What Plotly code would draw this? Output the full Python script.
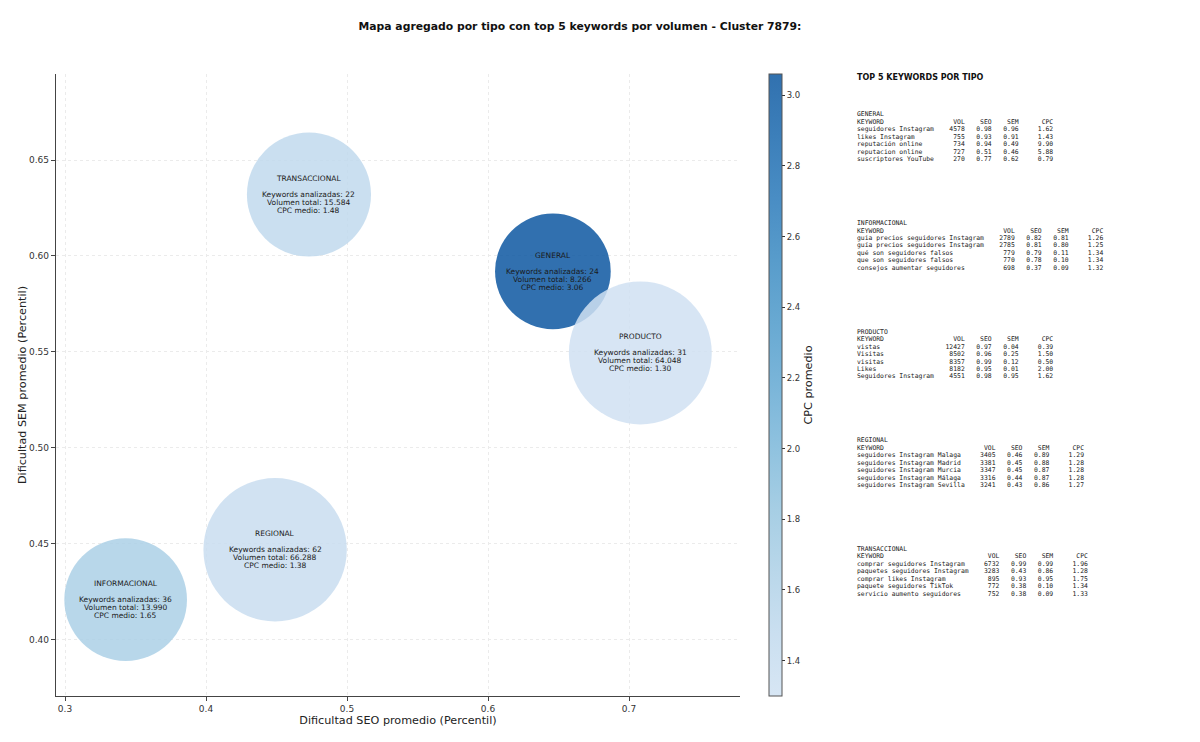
import numpy as np
import plotly.graph_objects as go

# Aggregated values per keyword type
tipos = ["GENERAL", "INFORMACIONAL", "PRODUCTO", "REGIONAL", "TRANSACCIONAL"]
seo_medio = [0.646, 0.343, 0.708, 0.449, 0.473]
sem_medio = [0.592, 0.421, 0.5495, 0.447, 0.632]
n_keywords = [24, 36, 31, 62, 22]
volumen_total = [8266, 13990, 64048, 66288, 15584]
cpc_medio = [3.06, 1.65, 1.30, 1.38, 1.48]

# Top 5 keywords per type (flat table)
top_tipo = ["GENERAL"] * 5 + ["INFORMACIONAL"] * 5 + ["PRODUCTO"] * 5 + ["REGIONAL"] * 5 + ["TRANSACCIONAL"] * 5
top_keyword = [
    "seguidores Instagram", "likes Instagram", "reputación online", "reputacion online", "suscriptores YouTube",
    "guia precios seguidores Instagram", "guía precios seguidores Instagram", "qué son seguidores falsos",
    "que son seguidores falsos", "consejos aumentar seguidores",
    "vistas", "Visitas", "visitas", "Likes", "Seguidores Instagram",
    "seguidores Instagram Malaga", "seguidores Instagram Madrid", "seguidores Instagram Murcia",
    "seguidores Instagram Málaga", "seguidores Instagram Sevilla",
    "comprar seguidores Instagram", "paquetes seguidores Instagram", "comprar likes Instagram",
    "paquete seguidores TikTok", "servicio aumento seguidores",
]
top_vol = [4578, 755, 734, 727, 270,
           2789, 2785, 779, 770, 698,
           12427, 8502, 8357, 8182, 4551,
           3405, 3381, 3347, 3316, 3241,
           6732, 3283, 895, 772, 752]
top_seo = [0.98, 0.93, 0.94, 0.51, 0.77,
           0.82, 0.81, 0.79, 0.78, 0.37,
           0.97, 0.96, 0.99, 0.95, 0.98,
           0.46, 0.45, 0.45, 0.44, 0.43,
           0.99, 0.43, 0.93, 0.38, 0.38]
top_sem = [0.96, 0.91, 0.49, 0.46, 0.62,
           0.81, 0.80, 0.11, 0.10, 0.09,
           0.04, 0.25, 0.12, 0.01, 0.95,
           0.89, 0.88, 0.87, 0.87, 0.86,
           0.99, 0.86, 0.95, 0.10, 0.09]
top_cpc = [1.62, 1.43, 9.90, 5.88, 0.79,
           1.26, 1.25, 1.34, 1.34, 1.32,
           0.39, 1.50, 0.50, 2.00, 1.62,
           1.29, 1.28, 1.28, 1.28, 1.27,
           1.96, 1.28, 1.75, 1.34, 1.33]

# the page body has an 8px margin, so the figure is a bit smaller than the window
OFF = 8
W, H = 1200 - OFF, 742 - OFF
# plot area in window pixels
L, R, T, B = 56, 740, 74, 696


def px_x(px):
    return (px - L) / (R - L)


def px_y(py):
    return (B - py) / (B - T)


def miles(v):
    return f"{v:,}".replace(",", ".")


# matplotlib "Blues" anchors, cut to the part used by the original
blues_anchor = [(247, 251, 255), (222, 235, 247), (198, 219, 239), (158, 202, 225), (107, 174, 214),
                (66, 146, 198), (33, 113, 181), (8, 81, 156), (8, 48, 107)]
alpha = 0.85


def blues(p):
    pos = p * (len(blues_anchor) - 1)
    i = min(int(pos), len(blues_anchor) - 2)
    t = pos - i
    a, b = blues_anchor[i], blues_anchor[i + 1]
    return [a[k] + (b[k] - a[k]) * t for k in range(3)]


stops = np.linspace(0, 1, 11)
scale, bar_scale = [], []
for s in stops:
    c = blues(0.2 + s * 0.65)
    scale.append([s, "rgb({:.0f},{:.0f},{:.0f})".format(*c)])
    m = [alpha * v + (1 - alpha) * 255 for v in c]
    bar_scale.append([s, "rgb({:.0f},{:.0f},{:.0f})".format(*m)])

# bubble diameter grows with log of total volume
sizes = 13.3 * np.log(np.array(volumen_total)) - 4.3

fig = go.Figure()
fig.add_trace(go.Scatter(
    x=seo_medio, y=sem_medio, mode="markers",
    marker=dict(size=sizes, sizemode="diameter", color=cpc_medio, colorscale=scale,
                cmin=min(cpc_medio), cmax=max(cpc_medio), opacity=alpha,
                line=dict(width=0)),
    hoverinfo="skip", showlegend=False,
))
# colour bar (drawn with the blended colours, as the original)
fig.add_trace(go.Scatter(
    x=seo_medio, y=sem_medio, mode="markers",
    marker=dict(size=0, opacity=0, color=cpc_medio, colorscale=bar_scale,
                cmin=min(cpc_medio), cmax=max(cpc_medio), showscale=True,
                colorbar=dict(
                    x=px_x(769), xanchor="left", xpad=0, y=0.5, yanchor="middle",
                    len=1, lenmode="fraction", ypad=0, thickness=13,
                    outlinecolor="#555", outlinewidth=1,
                    tickvals=[1.4, 1.6, 1.8, 2.0, 2.2, 2.4, 2.6, 2.8, 3.0],
                    tickformat=".1f", ticks="outside", ticklen=3, tickcolor="#333",
                    tickfont=dict(size=8.5, color="#333"),
                    title=dict(text="CPC promedio", side="right", font=dict(size=11.2, color="#222")),
                )),
    hoverinfo="skip", showlegend=False,
))

ann = []
txt_font = dict(family="DejaVu Sans", size=7.5, color="#1a1a1a")
for i, t in enumerate(tipos):
    lines = [(t, -16), (f"Keywords analizadas: {n_keywords[i]}", 0),
             (f"Volumen total: {miles(volumen_total[i])}", 8),
             (f"CPC medio: {cpc_medio[i]:.2f}", 16)]
    for s, dy in lines:
        ann.append(dict(x=seo_medio[i], y=sem_medio[i], xref="x", yref="y", text=s,
                        showarrow=False, yshift=-dy, font=txt_font,
                        xanchor="center", yanchor="middle"))

# right-hand text panel (annotation boxes add ~2px padding on the left)
tx = px_x(855)
ann.append(dict(x=tx, y=px_y(77.5), xref="paper", yref="paper",
                text="<b>TOP 5 KEYWORDS POR TIPO</b>", showarrow=False,
                xanchor="left", yanchor="middle",
                font=dict(family="DejaVu Sans", size=8, color="#111")))
mono = dict(family="DejaVu Sans Mono", size=6.4, color="#1a1a1a")
step = 7.45
for b, t in enumerate(tipos):
    idx = [k for k, tt in enumerate(top_tipo) if tt == t]
    w = max(len(top_keyword[k]) for k in idx)
    rows = [t, f"{'KEYWORD':<{w}}{'VOL':>8}{'SEO':>7}{'SEM':>7}{'CPC':>9}"]
    for k in idx:
        rows.append(f"{top_keyword[k]:<{w}}{top_vol[k]:>8}{top_seo[k]:>7.2f}"
                    f"{top_sem[k]:>7.2f}{top_cpc[k]:>9.2f}")
    y0 = 114.5 + b * 108.6
    for j, s in enumerate(rows):
        ann.append(dict(x=tx, y=px_y(y0 + j * step), xref="paper", yref="paper",
                        text=s.replace(" ", "\u00a0"), showarrow=False,
                        xanchor="left", yanchor="middle", font=mono))

axis_common = dict(
    showline=True, linecolor="#444", linewidth=1.3, mirror=False,
    ticks="outside", ticklen=4, tickcolor="#444",
    tickfont=dict(size=9, color="#333"),
    showgrid=True, gridcolor="#ebebeb", gridwidth=0.7, griddash="3px,3px",
    zeroline=False,
)

fig.update_layout(
    width=W, height=H,
    margin=dict(l=L - OFF, r=W - (R - OFF), t=T - OFF, b=H - (B - OFF)),
    paper_bgcolor="white", plot_bgcolor="white",
    font=dict(family="DejaVu Sans", color="#222"),
    title=dict(text="<b>Mapa agregado por tipo con top 5 keywords por volumen - Cluster 7879:</b>",
               x=(580 - OFF) / W, xanchor="center", xref="container",
               y=1 - (26 - OFF) / H, yanchor="middle", yref="container",
               font=dict(size=10.8, color="#111")),
    xaxis=dict(range=[0.2936, 0.7787], tickvals=[0.3, 0.4, 0.5, 0.6, 0.7],
               ticktext=["0.3", "0.4", "0.5", "0.6", "0.7"],
               title=dict(text="Dificultad SEO promedio (Percentil)", font=dict(size=11.2, color="#222"),
                          standoff=0),
               **axis_common),
    yaxis=dict(range=[0.3708, 0.6948], tickvals=[0.40, 0.45, 0.50, 0.55, 0.60, 0.65],
               tickformat=".2f",
               title=dict(text="Dificultad SEM promedio (Percentil)", font=dict(size=11.2, color="#222"),
                          standoff=0),
               **axis_common),
    annotations=ann,
    showlegend=False,
)

fig.write_html("out.html")
